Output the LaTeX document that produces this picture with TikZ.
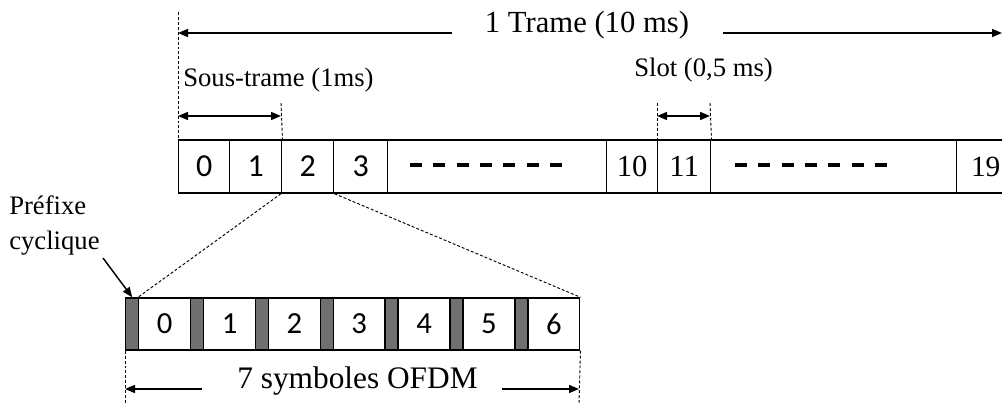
\documentclass[tikz,border=0pt]{standalone}
\usepackage{fontspec}
\setmainfont{Liberation Serif}
\newfontfamily\digitfont{Carlito}
\usetikzlibrary{arrows.meta}
\def\px{0.75pt}
\definecolor{cpgray}{RGB}{112,112,112}
\tikzset{
  boxline/.style={line width=1.1pt},
  cell/.style={draw, boxline, minimum height=53*\px, inner sep=0pt, anchor=west,
    font=\digitfont\fontsize{24}{24}\selectfont},
  cellserif/.style={cell, font=\fontsize{23}{23}\selectfont},
  cpbox/.style={draw, boxline, fill=cpgray, minimum height=52*\px, inner sep=0pt, anchor=west},
  symbox/.style={draw, boxline, fill=white, minimum height=52*\px, inner sep=0pt, anchor=west,
    font=\digitfont\fontsize{23}{23}\selectfont},
  guide/.style={line width=0.7pt, dash pattern=on 2.2pt off 1.5pt},
  dashrow/.style={line width=2.3pt, dash pattern=on 9pt off 8.5pt},
  arr/.style={line width=1.1pt, -{Triangle[length=7.5pt,width=6pt]}},
  arrboth/.style={line width=1.1pt, {Triangle[length=7.5pt,width=6pt]}-{Triangle[length=7.5pt,width=6pt]}},
  bigtxt/.style={font=\fontsize{23}{27}\selectfont, inner sep=0pt},
  lbl/.style={font=\fontsize{20}{24}\selectfont, inner sep=0pt},
  ofdmtxt/.style={font=\fontsize{23.5}{27}\selectfont, inner sep=0pt}
}
\begin{document}
\begin{tikzpicture}[x=0.75pt,y=-0.75pt]
\clip (0,0) rectangle (1002,403);
\fill[white] (0,0) rectangle (1002,403);

% top row of sub-frames / slots
\node[cell, minimum width=51*\px] (t0) at (178,166.5) {0};
\node[cell, minimum width=52*\px] (t1) at (229,166.5) {1};
\node[cell, minimum width=52*\px] (t2) at (281,166.5) {2};
\node[cell, minimum width=54*\px] (t3) at (333,166.5) {3};
\node[cell, minimum width=219*\px] (td1) at (387,166.5) {};
\node[cellserif, minimum width=51*\px] (t10) at (606,166.5) {10};
\node[cellserif, minimum width=53*\px] (t11) at (657,166.5) {11};
\node[cell, minimum width=246*\px] (td2) at (710,166.5) {};
\node[cellserif, font=\fontsize{22}{22}\selectfont, minimum width=58*\px] (t19) at (956,166.5) {19};

\draw[dashrow] (410,165) -- (562,165);
\draw[dashrow] (735,165) -- (887,165);

% frame arrow
\node[bigtxt, anchor=base] (trame) at (587,33) {1 Trame (10 ms)};
\coordinate (fl) at (178,33);
\coordinate (fr) at (1002,33);
\coordinate (tl) at (452,33);
\coordinate (tr) at (723,33);
\draw[arr] (tl) -- (fl);
\draw[arr] (tr) -- (fr);
\coordinate (v0) at (178,12);
\draw[guide] (v0) -- (t0.north west);

% sub-frame
\node[lbl, anchor=base west] (st) at (183,86) {Sous-trame (1ms)};
\coordinate (v1) at (281,103);
\draw[guide] (v1) -- (t1.north east);
\coordinate (sa) at (178,116);
\coordinate (sb) at (281,116);
\draw[arrboth] (sa) -- (sb);

% slot
\node[lbl, anchor=base west] (slot) at (634,77) {Slot (0,5 ms)};
\coordinate (w0) at (657,103);
\coordinate (w1) at (710,103);
\draw[guide] (w0) -- (t11.north west);
\draw[guide] (w1) -- (t11.north east);
\coordinate (sc) at (657,116);
\coordinate (sd) at (710,116);
\draw[arrboth] (sc) -- (sd);

% OFDM symbols
\foreach \i in {0,...,6}{
  \node[cpbox, minimum width=13*\px] (cp\i) at ({125+64.857*\i},324) {};
  \node[symbox, minimum width=51.857*\px] (s\i) at ({138+64.857*\i},324) {\i};
}

% zoom lines
\draw[guide] (t2.south west) -- (s0.north west);
\draw[guide] (t2.south east) -- (s6.north east);

% cyclic prefix label
\node[lbl, anchor=base west] (pre) at (9,214) {Préfixe};
\node[lbl, anchor=base west] (cyc) at (9,249) {cyclique};
\coordinate (pa) at (103,258);
\draw[arr] (pa) -- (cp0.north);

% 7 symbols
\node[ofdmtxt, anchor=base] (ofdm) at (357.5,388) {7 symboles OFDM};
\coordinate (ol) at (125,389);
\coordinate (or) at (579,389);
\coordinate (olx) at (202,389);
\coordinate (orx) at (502,389);
\draw[arr] (olx) -- (ol);
\draw[arr] (orx) -- (or);
\coordinate (bl) at (125,403);
\coordinate (br) at (579,403);
\draw[guide] (cp0.south west) -- (bl);
\draw[guide] (s6.south east) -- (br);
\end{tikzpicture}
\end{document}
